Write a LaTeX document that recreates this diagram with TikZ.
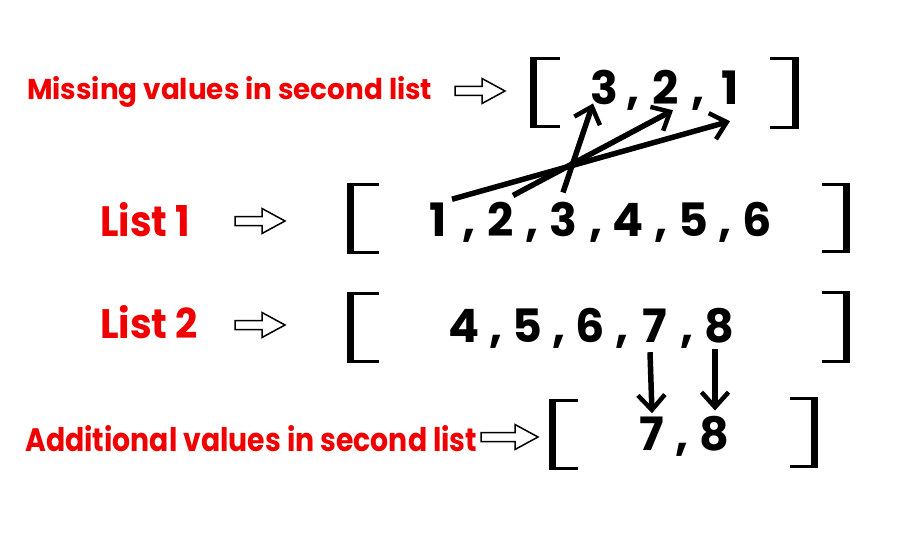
\documentclass[tikz,border=0pt]{standalone}
\usepackage{fontspec}
\setmainfont{Poppins}
\usetikzlibrary{arrows.meta,calc}
\definecolor{lblred}{HTML}{F00000}
\tikzset{
  dig/.style={anchor=base, inner sep=0pt, font=\fontsize{46}{46}\selectfont\bfseries},
  lbl/.style={anchor=base west, inner sep=0pt, text=lblred, font=\bfseries},
  hollow/.style={draw=black, line width=1.5pt, fill=white, line join=miter},
  link/.style={line width=5.5pt, -{Straight Barb[length=15pt,width=27pt,line width=4.5pt]}},
  brk/.style={fill=black}
}
\newcommand{\blockarrow}[3]{%
  \draw[hollow] (#1,#2) ++(0,-4.5) -- ++({#3-23},0) -- ++(0,-8) -- ++(23,12.5)
    -- ++(-23,12.5) -- ++(0,-8) -- ++({23-#3},0) -- cycle;}
\newcommand{\lbrk}[4]{%
  \fill[brk] (#1,#2) rectangle ++(7,{#3-#2});
  \fill[brk] (#1,#2) rectangle ++(#4,3);
  \fill[brk] (#1,#3) rectangle ++(#4,-3);}
\newcommand{\rbrk}[4]{%
  \fill[brk] (#1,#2) rectangle ++(-7,{#3-#2});
  \fill[brk] (#1,#2) rectangle ++(-#4,3);
  \fill[brk] (#1,#3) rectangle ++(-#4,-3);}
\begin{document}
\begin{tikzpicture}[x=1pt,y=-1pt]
\useasboundingbox[fill=white] (0,0) rectangle (904,556);

% labels
\node[lbl] (lmiss) at (27,100) {\resizebox{405pt}{23pt}{Missing values in second list}};
\node[lbl] (llist1) at (100,236) {\resizebox{90pt}{34pt}{List 1}};
\node[lbl] (llist2) at (100,338) {\resizebox{98pt}{33pt}{List 2}};
\node[lbl] (ladd) at (25,451) {\resizebox{452pt}{26pt}{Additional values in second list}};

% hollow arrows
\blockarrow{455}{91}{50}
\blockarrow{235}{221}{50}
\blockarrow{235}{325}{50}
\blockarrow{481}{437}{57}

% brackets
\lbrk{530}{57}{128}{30}
\rbrk{799}{57}{129}{29}
\lbrk{347}{183}{254}{32}
\rbrk{850}{183}{253}{28}
\lbrk{347}{292}{363}{32}
\rbrk{850}{291}{363}{28}
\lbrk{549}{399}{470}{29}
\rbrk{818}{397}{468}{28}

% top list
\node[dig] (t3) at (604,105) {3};
\node[dig] (tc1) at (633,105) {,};
\node[dig] (t2) at (666,105) {2};
\node[dig] (tc2) at (698,105) {,};
\node[dig] (t1) at (730,105) {1};

% list 1
\node[dig] (a1) at (438,236) {1};
\node[dig] (ac1) at (469,236) {,};
\node[dig] (a2) at (501,236) {2};
\node[dig] (ac2) at (532,236) {,};
\node[dig] (a3) at (563,236) {3};
\node[dig] (ac3) at (596,236) {,};
\node[dig] (a4) at (628,236) {4};
\node[dig] (ac4) at (661,236) {,};
\node[dig] (a5) at (693,236) {5};
\node[dig] (ac5) at (725,236) {,};
\node[dig] (a6) at (757,236) {6};

% list 2
\node[dig] (b4) at (464,342) {4};
\node[dig] (bc1) at (496,342) {,};
\node[dig] (b5) at (527,342) {5};
\node[dig] (bc2) at (559,342) {,};
\node[dig] (b6) at (590,342) {6};
\node[dig] (bc3) at (622,342) {,};
\node[dig] (b7) at (655,342) {7};
\node[dig] (bc4) at (687,342) {,};
\node[dig] (b8) at (719,342) {8};

% bottom list
\node[dig] (c7) at (652,450) {7};
\node[dig] (cc1) at (682,450) {,};
\node[dig] (c8) at (714,450) {8};

% connectors
\draw[link] ($(a1.north)+(14,-3)$) -- ($(t1.south)+(0,16)$);
\draw[link] ($(a2.north)+(12,-6)$) -- ($(t2.south)+(7,5)$);
\draw[link] ($(a3.north)+(0,-9)$) -- ($(t3.south)+(-11,-2)$);
\draw[link] ($(b7.south)+(-5,10)$) -- ($(c7.north)+(0,-3)$);
\draw[link] ($(b8.south)+(-4,6)$) -- ($(c8.north)+(1,-5)$);
\end{tikzpicture}
\end{document}
